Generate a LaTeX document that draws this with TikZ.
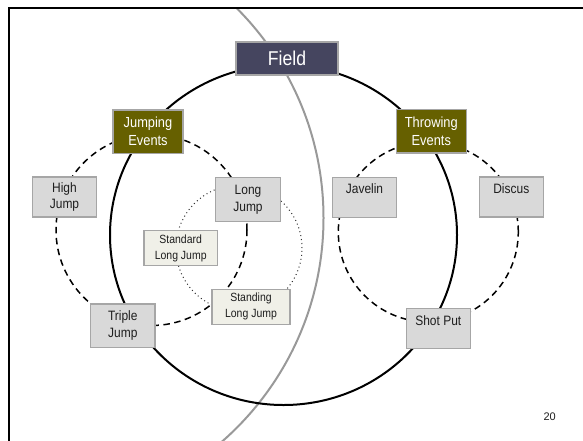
\documentclass[tikz,border=0pt]{standalone}
\usepackage{fontspec}
\setmainfont{Liberation Sans}
\newfontfamily\narrowsans[FakeStretch=0.88]{Liberation Sans}
\definecolor{fieldfill}{RGB}{69,69,95}
\definecolor{olive}{RGB}{102,96,0}
\definecolor{boxfill}{RGB}{217,217,217}
\definecolor{boxedge}{RGB}{166,166,166}
\definecolor{lightfill}{RGB}{240,240,232}
\definecolor{arcgray}{RGB}{153,153,153}
\definecolor{textdark}{RGB}{30,30,30}
\begin{document}
\begin{tikzpicture}[x=1pt,y=-1pt,
  basebox/.style={draw=boxedge, line width=1.2pt, inner sep=0pt, align=center},
  headbox/.style={basebox, fill=fieldfill, text=white, minimum width=102pt, minimum height=33pt,
    font=\narrowsans\fontsize{20}{22}\selectfont},
  groupbox/.style={basebox, fill=olive, text=white, minimum width=70pt, minimum height=43.5pt,
    font=\narrowsans\fontsize{14.6}{18}\selectfont},
  eventbox/.style={basebox, fill=boxfill, text=textdark, minimum width=64.4pt, minimum height=40pt,
    font=\narrowsans\fontsize{13.6}{16.5}\selectfont},
  subbox/.style={basebox, fill=lightfill, text=textdark, minimum height=35pt,
    font=\narrowsans\fontsize{11.9}{15.6}\selectfont},
  ring/.style={line width=2pt, black},
  groupring/.style={line width=1.5pt, black, dash pattern=on 6.5pt off 4.5pt},
  subring/.style={line width=1pt, black!80, dash pattern=on 1pt off 3pt},
]
\useasboundingbox (0,0) rectangle (583,440);

% slide frame (top and left edges)
\draw[line width=2.3pt, line join=miter] (9,445) -- (9,8) -- (590,8);

% large grey arc crossing the slide
\begin{scope}
  \clip (10,9) rectangle (583,440);
  \draw[arcgray, line width=2pt] (26.5,218) circle [radius=297pt];
\end{scope}

% main ring of field events
\draw[ring] (283.5,235) ellipse [x radius=173.5pt, y radius=170pt];

% rings of jumping and throwing events
\draw[groupring] (151.5,230) circle [radius=95.5pt];
\draw[groupring] (428.3,232) circle [radius=90pt];

% ring of long jump variants
\draw[subring] (239,248) circle [radius=63pt];

% boxes
\node[headbox]  (field)   at (287,58.5)   {Field};
\node[groupbox] (jumping) at (148,131.7)  {Jumping\\Events};
\node[groupbox] (throwing) at (431.3,131.3) {Throwing\\Events};

\node[eventbox] (high)    at (64.5,197)   {High\\Jump};
\node[eventbox, minimum height=44pt] (long) at (248,199.7) {Long\\Jump};
\node[eventbox, minimum height=43.3pt] (triple) at (122.8,325.7) {Triple\\Jump};
\node[eventbox] (javelin) at (364.5,197.3) {Javelin\\\mbox{}};
\node[eventbox] (discus)  at (511.3,197)  {Discus\\\mbox{}};
\node[eventbox] (shotput) at (438.3,328.5) {Shot Put\\\mbox{}};

\node[subbox, minimum width=73.3pt] (standard) at (180.7,248.2) {Standard\\Long Jump};
\node[subbox, minimum width=78pt]   (standing) at (251,306.7)   {Standing\\Long Jump};

% page number
\node[font=\fontsize{11}{13}\selectfont, text=textdark] (pagenum) at (549.7,416.7) {20};
\end{tikzpicture}
\end{document}
